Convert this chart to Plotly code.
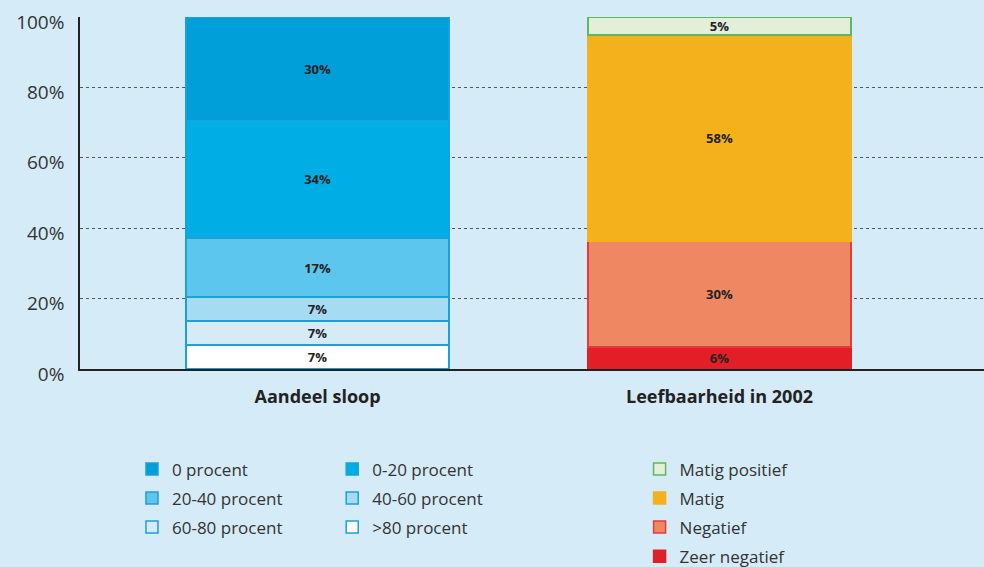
import plotly.graph_objects as go

categories = ["Aandeel sloop", "Leefbaarheid in 2002"]

# Aandeel sloop, stacked bottom -> top
sloop_names = [">80 procent", "60-80 procent", "40-60 procent", "20-40 procent", "0-20 procent", "0 procent"]
sloop_values = [6.8, 6.8, 6.8, 16.8, 33.4, 29.4]
sloop_labels = ["7%", "7%", "7%", "17%", "34%", "30%"]
sloop_colors = ["#ffffff", "#d5ebf8", "#a6dbf4", "#5cc6ee", "#00aee6", "#009fda"]
sloop_legend = ["legend2", "legend", "legend2", "legend", "legend2", "legend"]
sloop_rank = [3, 3, 2, 2, 1, 1]

# Leefbaarheid in 2002, stacked bottom -> top
leef_names = ["Zeer negatief", "Negatief", "Matig", "Matig positief"]
leef_values = [6.2, 30.1, 58.6, 5.1]
leef_labels = ["6%", "30%", "58%", "5%"]
leef_colors = ["#e21f26", "#ef8862", "#f5b11c", "#e3efd9"]
leef_lines = ["#e21f26", "#e23b3b", "#f5b11c", "#5fb85f"]
leef_rank = [4, 3, 2, 1]

y_ticks = [0, 20, 40, 60, 80, 100]
y_ticktext = ["0%", "20%", "40%", "60%", "80%", "100%"]

FONT = "Open Sans"
BG = "#d5ebf8"

fig = go.Figure()

for n, v, t, c, lg, r in zip(sloop_names, sloop_values, sloop_labels, sloop_colors, sloop_legend, sloop_rank):
    fig.add_trace(go.Bar(
        x=[categories[0]], y=[v], name=n, text=[t],
        marker=dict(color=c, line=dict(color="#1d9fd8", width=1.5)),
        legend=lg, legendgroup=n, legendrank=r,
        textposition="inside", insidetextanchor="middle", constraintext="none",
        textfont=dict(family=FONT, size=13, color="#222222", weight=700),
        hoverinfo="skip",
    ))

for n, v, t, c, lc, r in zip(leef_names, leef_values, leef_labels, leef_colors, leef_lines, leef_rank):
    fig.add_trace(go.Bar(
        x=[categories[1]], y=[v], name=n, text=[t],
        marker=dict(color=c, line=dict(color=lc, width=1.5)),
        legend="legend3", legendgroup=n, legendrank=r,
        textposition="inside", insidetextanchor="middle", constraintext="none",
        textfont=dict(family=FONT, size=13, color="#222222", weight=700),
        hoverinfo="skip",
    ))

legend_common = dict(
    orientation="v", traceorder="grouped", tracegroupgap=4,
    font=dict(family=FONT, size=17, color="#333333"),
    bgcolor="rgba(0,0,0,0)", yanchor="top", xanchor="left",
    itemclick=False, itemdoubleclick=False,
)

fig.update_layout(
    width=984, height=567,
    margin=dict(l=80, r=0, t=17, b=198, autoexpand=False),
    paper_bgcolor=BG, plot_bgcolor=BG,
    barmode="stack", bargap=0.346,
    showlegend=True,
    legend=dict(legend_common, x=0.0575, y=-0.234),
    legend2=dict(legend_common, x=0.279, y=-0.234),
    legend3=dict(legend_common, x=0.619, y=-0.234),
    xaxis=dict(
        type="category", range=[-0.591, 1.658],
        showline=True, linecolor="#222222", linewidth=1.5,
        ticks="outside", ticklen=11, tickcolor="rgba(0,0,0,0)",
        tickfont=dict(family=FONT, size=18, color="#222222", weight=700),
        showgrid=False, fixedrange=True,
    ),
    yaxis=dict(
        range=[0, 100], tickmode="array", tickvals=y_ticks, ticktext=y_ticktext,
        showline=True, linecolor="#222222", linewidth=1.5,
        ticks="outside", ticklen=10, tickcolor="rgba(0,0,0,0)",
        ticklabelshift=5,
        tickfont=dict(family=FONT, size=19, color="#333333"),
        showgrid=True, gridcolor="#555555", gridwidth=1, griddash="dot",
        zeroline=False, fixedrange=True,
    ),
)

fig.write_html(
    "out.html",
    config={"displayModeBar": False},
    post_script="document.body.style.margin='0px';document.body.style.background='%s';" % BG,
)
